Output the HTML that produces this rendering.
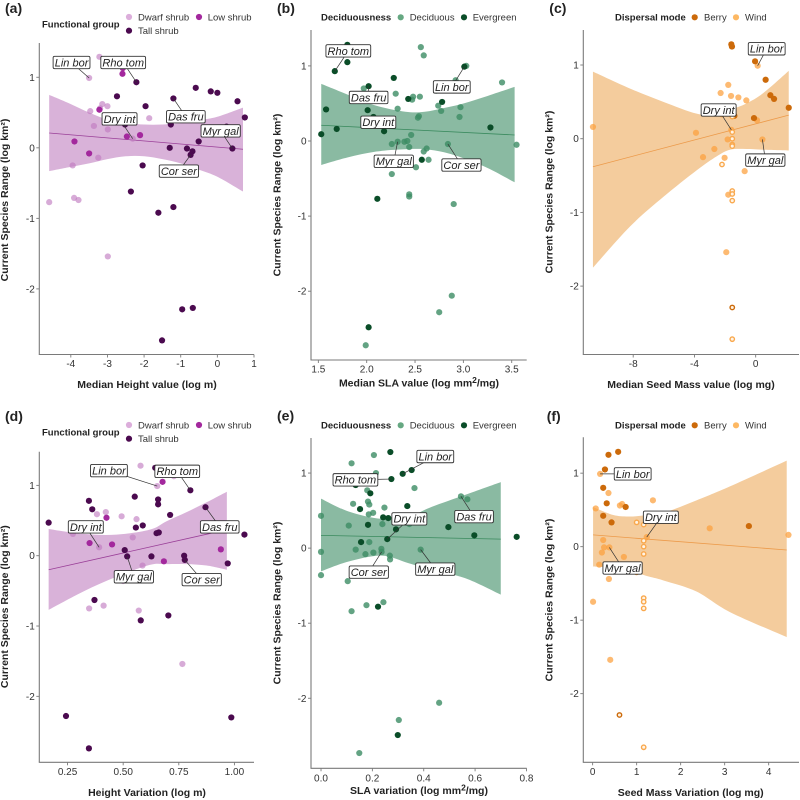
<!DOCTYPE html>
<html lang="en">
<head>
<meta charset="utf-8">
<title>Current species range vs traits</title>
<style>
html,body{margin:0;padding:0;background:#fff;}
svg{display:block;font-family:"Liberation Sans",sans-serif;}
</style>
</head>
<body>
<svg id="fig" width="800" height="800" viewBox="0 0 800 800" xmlns="http://www.w3.org/2000/svg"></svg>
<script>
// ---------- shared ticks ----------
const yTickValues = [1, 0, -1, -2];
const yTickLabels = ['1', '0', '-1', '-2'];

// ---------- panel (a) ----------
const aXTicks = [-4, -3, -2, -1, 0, 1];
const aXTickLabels = ['-4', '-3', '-2', '-1', '0', '1'];
const aDwarfX = [-3.22,-3.5,-3.47,-3.14,-3.0,-3.2,-1.86,-3.37,-2.99,-2.31,-3.25,-3.95,-4.59,-3.91,-3.79,-2.99];
const aDwarfY = [1.29,0.99,0.52,0.62,0.59,0.56,0.42,0.31,0.26,0.13,-0.14,-0.25,-0.77,-0.71,-0.74,-1.54];
const aLowX = [-2.58,-2.59,-3.22,-2.47,-2.11,-3.9,-3.5];
const aLowY = [1.13,1.05,0.54,0.16,0.18,0.09,-0.08];
const aTallX = [-2.21,-0.59,-0.18,0,0.55,-2.74,-1.2,-1.96,0.75,-2.52,-1.27,0.25,-0.51,-1.3,-0.83,0.41,-0.68,-0.73,-2.04,-2.36,-1.61,-1.2,-0.96,-0.67,-1.51];
const aTallY = [0.93,0.85,0.80,0.78,0.66,0.73,0.70,0.59,0.43,0.33,0.33,0.30,0.09,0,-0.01,-0.01,-0.05,-0.1,-0.25,-0.62,-0.92,-0.84,-2.29,-2.27,-2.73];
const aBandX = [-4.59,-4,-3.5,-3,-2.5,-2,-1.5,-1,-0.5,0,0.7];
const aBandUpper = [0.75,0.62,0.5,0.40,0.35,0.33,0.33,0.35,0.39,0.44,0.57];
const aBandLower = [-0.33,-0.27,-0.22,-0.16,-0.12,-0.12,-0.16,-0.22,-0.31,-0.41,-0.62];
const aFitX = [-4.59,0.7];
const aFitY = [0.21,-0.02];
const aLabelNames = ['Lin bor','Rho tom','Dry int','Das fru','Myr gal','Cor ser'];
const aLabelX = [-3.98,-2.57,-2.67,-0.86,0.09,-1.05];
const aLabelY = [1.21,1.21,0.41,0.44,0.24,-0.33];
const aTargetX = [-3.5,-2.21,-2.31,-1.2,0.41,-0.73];
const aTargetY = [0.99,0.93,0.13,0.70,-0.01,-0.1];

// ---------- panel (b) ----------
const bXTicks = [1.5, 2, 2.5, 3, 3.5];
const bXTickLabels = ['1.5', '2.0', '2.5', '3.0', '3.5'];
const bDecidX = [2.56,2.59,3.03,2.92,3.4,1.97,2.72,2.3,2.48,2.55,2.47,2.74,2.97,2.32,2.77,2.54,2.53,2.96,2.46,2.32,2.39,2.42,2.26,2.84,2.44,2.62,2.59,3.55,2.64,2.51,2.26,2.44,2.44,2.9,2.88,2.75,1.99];
const bDecidY = [1.25,1.14,1.0,0.81,0.78,0.70,0.67,0.63,0.59,0.59,0.55,0.47,0.45,0.43,0.40,0.33,0.31,0.32,0.08,-0.01,-0.01,0,-0.04,-0.04,-0.08,-0.10,-0.14,-0.05,-0.25,-0.35,-0.44,-0.71,-0.74,-0.84,-2.06,-2.28,-2.72];
const bEverX = [1.8,1.8,1.67,3.01,2.28,2.02,2.43,2.78,1.58,2.01,2.07,1.69,2.18,1.53,3.28,2.57,2.11,2.02];
const bEverY = [1.28,1.05,0.93,0.99,0.84,0.73,0.56,0.52,0.42,0.41,0.32,0.16,0.13,0.09,0.18,-0.25,-0.77,-2.48];
const bBandX = [1.53,1.8,2.1,2.4,2.6,2.8,3,3.25,3.53];
const bBandUpper = [0.76,0.62,0.47,0.39,0.39,0.44,0.50,0.60,0.72];
const bBandLower = [-0.32,-0.22,-0.14,-0.11,-0.11,-0.15,-0.23,-0.36,-0.55];
const bFitX = [1.53,3.53];
const bFitY = [0.21,0.08];
const bLabelNames = ['Rho tom','Lin bor','Das fru','Dry int','Myr gal','Cor ser'];
const bLabelX = [1.81,2.88,2.02,2.12,2.28,2.98];
const bLabelY = [1.2,0.72,0.58,0.25,-0.27,-0.32];
const bTargetX = [1.67,3.01,2.02,2.07,2.32,2.84];
const bTargetY = [0.93,0.99,0.73,0.32,-0.01,-0.04];

// ---------- panel (c) ----------
const cXTicks = [-8, -4, 0];
const cXTickLabels = ['-8', '-4', '0'];
const cBerryX = [-1.59,-1.55,-0.04,0.65,0.96,1.2,2.16,-0.11,-1.39];
const cBerryY = [1.28,1.25,1.05,0.8,0.59,0.54,0.42,0.28,0.31];
const cWindX = [0.13,-1.79,-2.29,-1.61,-1.13,-0.61,0.09,-10.63,-3.9,-1.83,0.44,-2.7,-3.44,-2.03,-0.72,-1.79,-1.92,-2.2,-1.59];
const cWindY = [0.99,0.73,0.62,0.58,0.56,0.52,0.25,0.16,0.08,-0.01,-0.01,-0.14,-0.25,-0.26,-0.44,-0.76,-1.54,0.33,0.12];
const cWindOpenX = [-1.53,-1.53,-1.53,-1.53,-1.53,-2.2,-1.53,-1.53,-1.53,-1.53];
const cWindOpenY = [0.3,0.09,0,-0.08,-0.1,-0.35,-0.71,-0.75,-0.84,-2.72];
const cBerryOpenX = [-1.53];
const cBerryOpenY = [-2.29];
const cBandX = [-10.63,-8.2,-6.03,-3.86,-2.55,-1.68,-0.59,0.5,2.16];
const cBandUpper = [0.91,0.68,0.50,0.34,0.32,0.39,0.48,0.62,0.92];
const cBandLower = [-1.75,-1.19,-0.79,-0.43,-0.24,-0.15,-0.14,-0.15,-0.16];
const cFitX = [-10.63,2.16];
const cFitY = [-0.38,0.32];
const cLabelNames = ['Lin bor','Dry int','Myr gal'];
const cLabelX = [0.72,-2.42,0.63];
const cLabelY = [1.22,0.39,-0.29];
const cTargetX = [0.13,-1.59,0.44];
const cTargetY = [0.99,0.12,-0.01];

// ---------- panel (d) ----------
const dXTicks = [0.25, 0.5, 0.75, 1];
const dXTickLabels = ['0.25', '0.50', '0.75', '1.00'];
const dDwarfX = [0.578,0.653,0.728,0.422,0.382,0.493,0.56,0.274,0.543,0.392,0.587,0.347,0.412,0.57,0.766,0.5];
const dDwarfY = [1.28,0.99,1.13,0.62,0.59,0.56,0.52,0.31,0.26,0.12,-0.14,-0.75,-0.71,-0.78,-1.54,-0.36];
const dLowX = [0.677,0.425,0.349,0.45,0.939,0.683];
const dLowY = [1.05,0.54,0.18,0.16,0.09,-0.08];
const dTallX = [0.644,0.802,0.552,0.657,0.657,0.346,0.361,0.87,0.711,0.165,0.557,0.588,0.65,0.66,1.045,0.507,0.518,0.627,0.774,0.777,0.97,0.371,0.579,0.703,0.243,0.986,0.346];
const dTallY = [1.25,0.93,0.84,0.8,0.73,0.78,0.66,0.69,0.58,0.47,0.40,0.43,0.32,0.33,0.3,0.08,-0.01,-0.01,0,-0.06,-0.11,-0.63,-0.92,-0.85,-2.28,-2.3,-2.74];
const dBandX = [0.165,0.32,0.47,0.62,0.695,0.785,0.875,0.966];
const dBandUpper = [0.38,0.31,0.30,0.37,0.49,0.62,0.76,0.91];
const dBandLower = [-0.77,-0.51,-0.30,-0.13,-0.12,-0.12,-0.14,-0.20];
const dFitX = [0.165,0.966];
const dFitY = [-0.2,0.37];
const dLabelNames = ['Lin bor','Rho tom','Dry int','Das fru','Myr gal','Cor ser'];
const dLabelX = [0.436,0.743,0.332,0.934,0.548,0.853];
const dLabelY = [1.21,1.2,0.41,0.41,-0.3,-0.34];
const dTargetX = [0.653,0.802,0.392,0.87,0.518,0.777];
const dTargetY = [0.99,0.93,0.12,0.69,-0.01,-0.06];

// ---------- panel (e) ----------
const eXTicks = [0, 0.2, 0.4, 0.6, 0.8];
const eXTickLabels = ['0.0', '0.2', '0.4', '0.6', '0.8'];
const eDecidX = [0.206,0.119,0.214,0.18,0.364,0.183,0.188,0.125,0.247,0.545,0.57,0.186,0.203,0,0.239,0.108,0.344,0.188,0.135,0.235,0.236,0.204,0.173,0.268,0.269,0.388,0,0,0.104,0.119,0.177,0.243,0.46,0.303,0.149];
const eDecidY = [1.24,1.13,1.0,0.77,0.8,0.62,0.58,0.59,0.54,0.69,0.65,0.45,0.47,0.43,0.32,0.3,0.32,0.08,-0.02,-0.01,-0.05,-0.06,-0.08,-0.1,-0.15,-0.02,-0.05,-0.36,-0.44,-0.84,-0.76,-0.72,-2.06,-2.29,-2.73];
const eEverX = [0.27,0.318,0.353,0.274,0.135,0.192,0.152,0.336,0.242,0.262,0.183,0.292,0.496,0.762,0.597,0.156,0.258,0.222,0.299];
const eEverY = [1.28,0.99,1.04,0.92,0.84,0.73,0.52,0.56,0.41,0.4,0.31,0.25,0.28,0.15,0.17,0.08,0.12,-0.78,-2.49];
const eBandX = [0,0.106,0.236,0.34,0.431,0.561,0.7];
const eBandUpper = [0.66,0.49,0.39,0.42,0.55,0.71,0.88];
const eBandLower = [-0.31,-0.18,-0.10,-0.2,-0.29,-0.40,-0.62];
const eFitX = [0,0.7];
const eFitY = [0.17,0.12];
const eLabelNames = ['Lin bor','Rho tom','Dry int','Das fru','Myr gal','Cor ser'];
const eLabelX = [0.445,0.134,0.344,0.596,0.445,0.186];
const eLabelY = [1.22,0.91,0.39,0.42,-0.28,-0.32];
const eTargetX = [0.318,0.274,0.258,0.545,0.388,0.236];
const eTargetY = [0.99,0.92,0.12,0.69,-0.02,-0.05];

// ---------- panel (f) ----------
const fXTicks = [0, 1, 2, 3, 4];
const fXTickLabels = ['0', '1', '2', '3', '4'];
const fBerryX = [0.58,0.36,0.28,0.24,0.32,0.75,0.24,0.43,3.55];
const fBerryY = [1.29,1.25,1.05,0.8,0.59,0.54,0.42,0.33,0.28];
const fWindX = [0.17,0.36,0.07,0.62,0.67,1.37,2.66,4.45,0.24,0.26,0.38,0.21,0.71,0.15,0.37,0.01,0.4,1.23];
const fWindY = [0.99,0.73,0.52,0.56,0.58,0.63,0.25,0.16,0.09,-0.01,-0.01,-0.08,-0.14,-0.245,-0.44,-0.75,-1.54,0.13];
const fWindOpenX = [1,1.16,1.16,1.16,1.16,1.16,1.16,1.16,1.16,1];
const fWindOpenY = [0.33,0.3,0.08,0,-0.1,-0.7,-0.75,-0.84,-2.73,-0.35];
const fBerryOpenX = [0.61];
const fBerryOpenY = [-2.29];
const fBandX = [0.01,0.47,0.85,1.23,1.61,2.36,3.12,4.41];
const fBandUpper = [0.54,0.43,0.41,0.43,0.46,0.63,0.82,1.17];
const fBandLower = [-0.27,-0.29,-0.33,-0.40,-0.46,-0.61,-0.89,-1.23];
const fFitX = [0.01,4.41];
const fFitY = [0.16,-0.045];
const fLabelNames = ['Lin bor','Dry int','Myr gal'];
const fLabelX = [0.91,1.55,0.68];
const fLabelY = [0.99,0.4,-0.29];
const fTargetX = [0.17,1.23,0.38];
const fTargetY = [0.99,0.13,-0.01];

// ---------- drawing ----------
const svg = document.getElementById('fig');
const NS = 'http://www.w3.org/2000/svg';
const AXIS = '#7a7a7a';
const INK = '#333';
const DWARF = 'rgba(190,120,190,0.62)', DWARF_KEY = '#dcaedb';
const LOW = '#a3289d', TALL = '#4b0a4f';
const DECID = 'rgba(60,140,100,0.8)', DECID_KEY = '#66a882', EVER = '#0a4d28';
const BERRY = '#cc6a0a', WIND = 'rgba(252,160,60,0.72)', WIND_KEY = '#fdb863';

function make(tag, attrs, parent) {
  const n = document.createElementNS(NS, tag);
  for (const k in attrs) n.setAttribute(k, attrs[k]);
  parent.appendChild(n);
  return n;
}

function addText(parent, str, x, y, size, weight, anchor, fill) {
  const t = make('text', {x: x, y: y, 'font-size': size, 'font-weight': weight, 'text-anchor': anchor, fill: fill}, parent);
  t.textContent = str;
  return t;
}

function panelGroup(id) {
  const g = make('g', {}, svg);
  
  
  return g;
}

function scales(box) {
  return {
    x: v => box.left + (v - box.xMin) / (box.xMax - box.xMin) * (box.right - box.left),
    y: v => box.bottom - (v - box.yMin) / (box.yMax - box.yMin) * (box.bottom - box.top)
  };
}

function drawAxes(g, box, s, xTicks, xLabels, xTickY) {
  const yAxis = make('line', {x1: box.left, x2: box.left, y1: box.top, y2: box.bottom, stroke: AXIS, 'stroke-width': 1.1}, g);
  
  
  const xAxis = make('line', {x1: box.left - 0.5, x2: box.right, y1: box.bottom, y2: box.bottom, stroke: AXIS, 'stroke-width': 1.1}, g);
  
  
  yTickValues.forEach((v, i) => {
    const py = s.y(v);
    const tick = make('line', {x1: box.left - 3, x2: box.left, y1: py, y2: py, stroke: AXIS, 'stroke-width': 0.9}, g);
    
    
    const lab = addText(g, yTickLabels[i], box.left - 4.5, py + 3.5, 10, 'normal', 'end', INK);
    
    
  });
  xTicks.forEach((v, i) => {
    const px = s.x(v);
    const tick = make('line', {x1: px, x2: px, y1: box.bottom, y2: box.bottom + 3, stroke: AXIS, 'stroke-width': 0.9}, g);
    
    
    const lab = addText(g, xLabels[i], px, xTickY, 10, 'normal', 'middle', INK);
    
    
  });
}

function drawBand(g, s, bx, up, lo, colour) {
  const upPts = bx.map((v, i) => [s.x(v), s.y(up[i])]);
  const loPts = bx.map((v, i) => [s.x(v), s.y(lo[i])]).reverse();
  const smooth = pts => {
    let d = '';
    pts.forEach((p, i) => {
      if (i === 0) return;
      const p0 = pts[Math.max(0, i - 2)], p1 = pts[i - 1], p2 = p, p3 = pts[Math.min(pts.length - 1, i + 1)];
      d += ' C' + (p1[0] + (p2[0] - p0[0]) / 6) + ' ' + (p1[1] + (p2[1] - p0[1]) / 6) + ' ' +
           (p2[0] - (p3[0] - p1[0]) / 6) + ' ' + (p2[1] - (p3[1] - p1[1]) / 6) + ' ' + p2[0] + ' ' + p2[1];
    });
    return d;
  };
  const d = 'M' + upPts[0][0] + ' ' + upPts[0][1] + smooth(upPts) + ' L' + loPts[0][0] + ' ' + loPts[0][1] + smooth(loPts) + ' Z';
  const band = make('path', {d: d, fill: colour}, g);
  
  
}

function drawFit(g, s, fx, fy, colour) {
  const fit = make('line', {x1: s.x(fx[0]), y1: s.y(fy[0]), x2: s.x(fx[1]), y2: s.y(fy[1]), stroke: colour, 'stroke-width': 0.8}, g);
  
  
}

function drawPoints(g, s, xs, ys, colour, seriesName) {
  xs.forEach((v, i) => {
    const c = make('circle', {cx: s.x(v), cy: s.y(ys[i]), r: 3.1, fill: colour}, g);
    
    
  });
}

function drawOpenPoints(g, s, xs, ys, colour, seriesName) {
  xs.forEach((v, i) => {
    const c = make('circle', {cx: s.x(v), cy: s.y(ys[i]), r: 2.2, fill: '#fff4e6', stroke: colour, 'stroke-width': 1.4}, g);
    
    
  });
}

function drawLabels(g, s, names, lx, ly, tx, ty) {
  names.forEach((name, i) => {
    const cx = s.x(lx[i]), cy = s.y(ly[i]);
    const leader = make('line', {x1: cx, y1: cy, x2: s.x(tx[i]), y2: s.y(ty[i]), stroke: '#333', 'stroke-width': 0.7}, g);
    
    
    const rect = make('rect', {fill: '#fff', stroke: '#333', 'stroke-width': 0.9, rx: 1.5, ry: 1.5}, g);
    
    
    const t = addText(g, name, cx, cy + 3.9, 11, 'normal', 'middle', '#222');
    t.setAttribute('font-style', 'italic');
    
    
    const w = t.getComputedTextLength() + 3.2;
    rect.setAttribute('x', cx - w / 2);
    rect.setAttribute('y', cy - 6.2);
    rect.setAttribute('width', w);
    rect.setAttribute('height', 12.4);
  });
}

function drawTitles(g, letter, lx, ly, xTitle, xSup, xRest, xcx, xby, ycx, ycy) {
  const letterEl = addText(g, letter, lx, ly, 14, 'bold', 'start', '#222');
  
  
  const xt = addText(g, xTitle, xcx, xby, 10.5, 'bold', 'middle', '#222');
  
  
  if (xSup) {
    const sup = make('tspan', {dy: -3.5, 'font-size': 8.5}, xt);
    sup.textContent = xSup;
    const rest = make('tspan', {dy: 3.5}, xt);
    rest.textContent = xRest;
  }
  const yt = addText(g, 'Current Species Range (log km\u00B2)', 0, 0, 10.5, 'bold', 'middle', '#222');
  yt.setAttribute('transform', 'translate(' + ycx + ',' + ycy + ') rotate(-90)');
  
  
}

function legendEntry(g, dotX, dotY, colour, text, textX) {
  const dot = make('circle', {cx: dotX, cy: dotY, r: 3.1, fill: colour}, g);
  
  
  const t = addText(g, text, textX, dotY + 3.3, 9.5, 'normal', 'start', '#333');
  
  
}

function legendTitle(g, text, x, y) {
  const t = addText(g, text, x, y, 9.5, 'bold', 'start', '#222');
  
  
}

// --- (a)
(function () {
  const g = panelGroup('a');
  const box = {left: 39.3, right: 254, top: 43, bottom: 354.5, xMin: -4.86, xMax: 1.0, yMin: -2.93, yMax: 1.486};
  const s = scales(box);
  drawBand(g, s, aBandX, aBandUpper, aBandLower, '#d9b2d9');
  drawFit(g, s, aFitX, aFitY, '#9a3f98');
  drawAxes(g, box, s, aXTicks, aXTickLabels, 367);
  drawPoints(g, s, aDwarfX, aDwarfY, DWARF, 'dwarf-shrub');
  drawPoints(g, s, aLowX, aLowY, LOW, 'low-shrub');
  drawPoints(g, s, aTallX, aTallY, TALL, 'tall-shrub');
  drawLabels(g, s, aLabelNames, aLabelX, aLabelY, aTargetX, aTargetY);
  drawTitles(g, '(a)', 5, 13, 'Median Height value (log m)', null, null, 147, 388, 8, 200);
  legendTitle(g, 'Functional group', 42, 27.5);
  legendEntry(g, 129, 17, DWARF_KEY, 'Dwarf shrub', 138);
  legendEntry(g, 199, 17, LOW, 'Low shrub', 207.7);
  legendEntry(g, 129, 30.7, TALL, 'Tall shrub', 138);
})();

// --- (b)
(function () {
  const g = panelGroup('b');
  const box = {left: 311, right: 526.7, top: 30, bottom: 360, xMin: 1.424, xMax: 3.655, yMin: -2.916, yMax: 1.478};
  const s = scales(box);
  drawBand(g, s, bBandX, bBandUpper, bBandLower, '#8abaa2');
  drawFit(g, s, bFitX, bFitY, '#3a8a5e');
  drawAxes(g, box, s, bXTicks, bXTickLabels, 372.7);
  drawPoints(g, s, bDecidX, bDecidY, DECID, 'deciduous');
  drawPoints(g, s, bEverX, bEverY, EVER, 'evergreen');
  drawLabels(g, s, bLabelNames, bLabelX, bLabelY, bTargetX, bTargetY);
  drawTitles(g, '(b)', 277, 13, 'Median SLA value (log mm', '2', '/mg)', 419, 386.7, 280.7, 195);
  legendTitle(g, 'Deciduousness', 321, 20.5);
  legendEntry(g, 400.7, 17.3, DECID_KEY, 'Deciduous', 409.7);
  legendEntry(g, 464, 17.3, EVER, 'Evergreen', 472.7);
})();

// --- (c)
(function () {
  const g = panelGroup('c');
  const box = {left: 583.3, right: 799, top: 30, bottom: 354.5, xMin: -11.26, xMax: 2.83, yMin: -2.928, yMax: 1.475};
  const s = scales(box);
  drawBand(g, s, cBandX, cBandUpper, cBandLower, '#f4cc9d');
  drawFit(g, s, cFitX, cFitY, '#ec9a4a');
  drawAxes(g, box, s, cXTicks, cXTickLabels, 367);
  drawPoints(g, s, cWindX, cWindY, WIND, 'wind');
  drawPoints(g, s, cBerryX, cBerryY, BERRY, 'berry');
  drawOpenPoints(g, s, cWindOpenX, cWindOpenY, '#f9a84d', 'wind');
  drawOpenPoints(g, s, cBerryOpenX, cBerryOpenY, BERRY, 'berry');
  drawLabels(g, s, cLabelNames, cLabelX, cLabelY, cTargetX, cTargetY);
  drawTitles(g, '(c)', 549.3, 13, 'Median Seed Mass value (log mg)', null, null, 691, 388, 552.7, 192);
  legendTitle(g, 'Dispersal mode', 615, 20.5);
  legendEntry(g, 694.7, 17.3, BERRY, 'Berry', 704);
  legendEntry(g, 736, 17.3, WIND_KEY, 'Wind', 745);
})();

// --- (d)
(function () {
  const g = panelGroup('d');
  const box = {left: 39.3, right: 254, top: 451.7, bottom: 762.3, xMin: 0.123, xMax: 1.088, yMin: -2.938, yMax: 1.479};
  const s = scales(box);
  drawBand(g, s, dBandX, dBandUpper, dBandLower, '#d9b2d9');
  drawFit(g, s, dFitX, dFitY, '#9a3f98');
  drawAxes(g, box, s, dXTicks, dXTickLabels, 775);
  drawPoints(g, s, dDwarfX, dDwarfY, DWARF, 'dwarf-shrub');
  drawPoints(g, s, dLowX, dLowY, LOW, 'low-shrub');
  drawPoints(g, s, dTallX, dTallY, TALL, 'tall-shrub');
  drawLabels(g, s, dLabelNames, dLabelX, dLabelY, dTargetX, dTargetY);
  drawTitles(g, '(d)', 5, 421, 'Height Variation (log m)', null, null, 147, 796, 8, 606.7);
  legendTitle(g, 'Functional group', 42, 435.5);
  legendEntry(g, 129, 425, DWARF_KEY, 'Dwarf shrub', 138);
  legendEntry(g, 199, 425, LOW, 'Low shrub', 207.7);
  legendEntry(g, 129, 438.7, TALL, 'Tall shrub', 138);
})();

// --- (e)
(function () {
  const g = panelGroup('e');
  const box = {left: 311, right: 526.7, top: 438, bottom: 768.3, xMin: -0.039, xMax: 0.801, yMin: -2.933, yMax: 1.467};
  const s = scales(box);
  drawBand(g, s, eBandX, eBandUpper, eBandLower, '#8abaa2');
  drawFit(g, s, eFitX, eFitY, '#3a8a5e');
  drawAxes(g, box, s, eXTicks, eXTickLabels, 781.7);
  drawPoints(g, s, eDecidX, eDecidY, DECID, 'deciduous');
  drawPoints(g, s, eEverX, eEverY, EVER, 'evergreen');
  drawLabels(g, s, eLabelNames, eLabelX, eLabelY, eTargetX, eTargetY);
  drawTitles(g, '(e)', 277, 420.7, 'SLA variation (log mm', '2', '/mg)', 419, 794, 280.7, 603);
  legendTitle(g, 'Deciduousness', 321, 428.5);
  legendEntry(g, 400.7, 425.3, DECID_KEY, 'Deciduous', 409.7);
  legendEntry(g, 464, 425.3, EVER, 'Evergreen', 472.7);
})();

// --- (f)
(function () {
  const g = panelGroup('f');
  const box = {left: 583.3, right: 799, top: 437.3, bottom: 762.3, xMin: -0.212, xMax: 4.689, yMin: -2.934, yMax: 1.488};
  const s = scales(box);
  drawBand(g, s, fBandX, fBandUpper, fBandLower, '#f4cc9d');
  drawFit(g, s, fFitX, fFitY, '#ec9a4a');
  drawAxes(g, box, s, fXTicks, fXTickLabels, 775);
  drawPoints(g, s, fWindX, fWindY, WIND, 'wind');
  drawPoints(g, s, fBerryX, fBerryY, BERRY, 'berry');
  drawOpenPoints(g, s, fWindOpenX, fWindOpenY, '#f9a84d', 'wind');
  drawOpenPoints(g, s, fBerryOpenX, fBerryOpenY, BERRY, 'berry');
  drawLabels(g, s, fLabelNames, fLabelX, fLabelY, fTargetX, fTargetY);
  drawTitles(g, '(f)', 546.7, 421, 'Seed Mass Variation (log mg)', null, null, 690.7, 796, 552.7, 600);
  legendTitle(g, 'Dispersal mode', 615, 428.5);
  legendEntry(g, 694.7, 425.3, BERRY, 'Berry', 704);
  legendEntry(g, 736, 425.3, WIND_KEY, 'Wind', 745);
})();
</script>
</body>
</html>
